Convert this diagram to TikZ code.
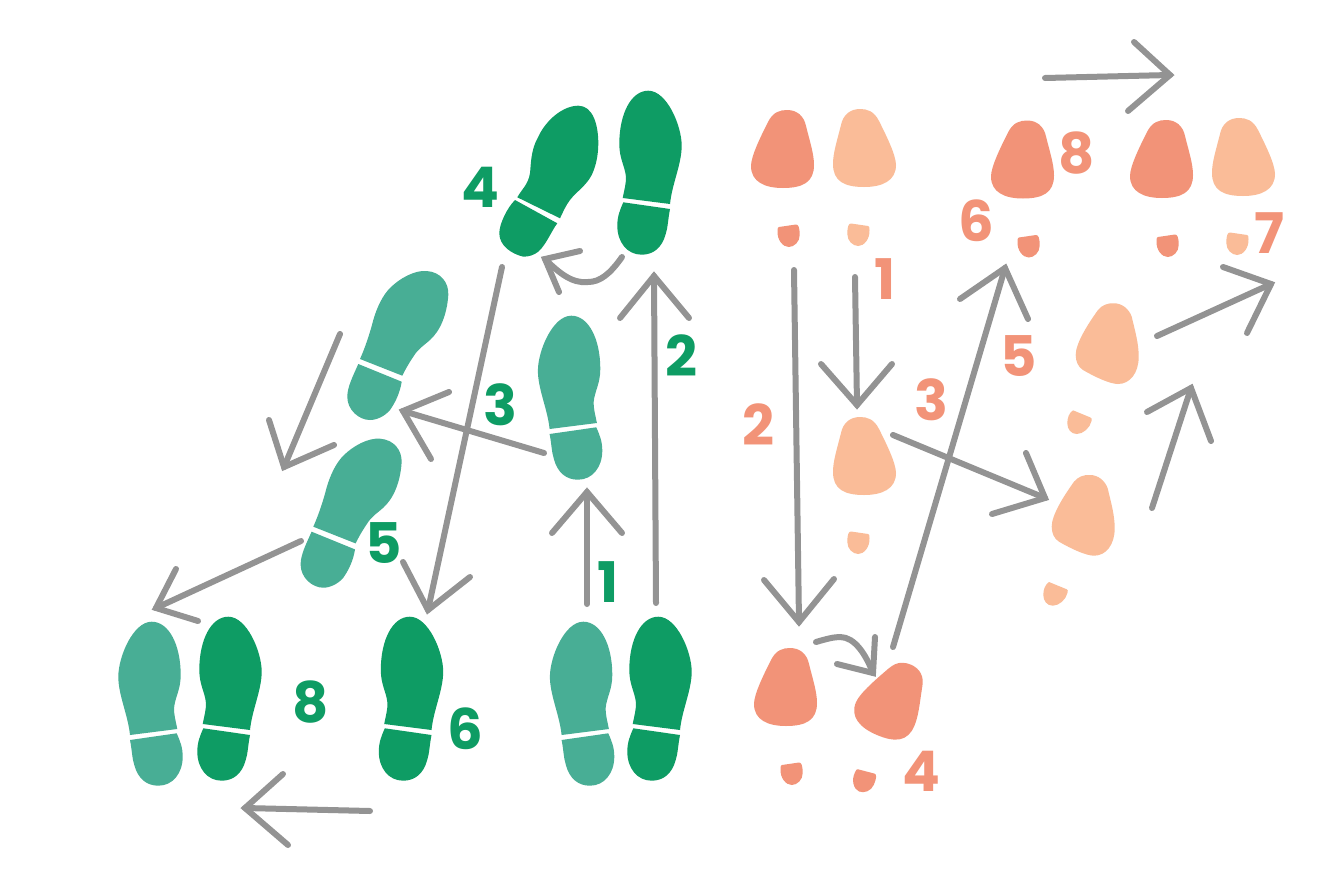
\documentclass[tikz,border=0pt]{standalone}
\usepackage{fontspec}
\setmainfont{Poppins}
\definecolor{dgreen}{HTML}{0E9C64}
\definecolor{lgreen}{HTML}{48AE95}
\definecolor{salmon}{HTML}{F29378}
\definecolor{peach}{HTML}{FABC98}
\definecolor{arrgray}{HTML}{939393}
\tikzset{
  arrline/.style={draw=arrgray,line width=4.5pt,line cap=round,line join=miter},
  numlabel/.style={inner sep=0pt,font=\fontsize{42}{42}\selectfont\bfseries},
  shoeone/.pic={
    \fill (-22.3,24) .. controls (-20.5,15) and (-19,10) .. (-19,3.3)
      .. controls (-20,-8) and (-25.7,-15) .. (-25.7,-30)
      .. controls (-25.7,-60) and (-14,-83.3) .. (3.3,-83.3)
      .. controls (22,-83.3) and (36.7,-48) .. (36.7,-28.3)
      .. controls (36.7,-10) and (27,10) .. (25,30) -- cycle;
    \fill (-21.7,28.3) -- (25,35) .. controls (23,45) and (23,53) .. (20.7,60)
      .. controls (17,74) and (8,80.7) .. (-3.3,80.7)
      .. controls (-18,80.7) and (-27.7,68) .. (-27.7,51.7)
      .. controls (-27.7,42) and (-25,36) .. cycle;
  },
  shoeslant/.pic={
    \fill (-35,14) .. controls (-30,3) and (-25,-12) .. (-21.7,-25)
      .. controls (-18,-38) and (-12,-50) .. (-5,-57)
      .. controls (5,-67) and (20,-75) .. (31.7,-74)
      .. controls (46,-73) and (54,-62) .. (53.3,-50)
      .. controls (52,-30) and (45,-14) .. (35,-5)
      .. controls (27,2) and (23,4) .. (18.3,11.7)
      .. controls (14,18) and (10,25) .. (7.3,30.7) -- cycle;
    \fill (-36.7,19) -- (6.7,36.7) .. controls (5,48) and (0,58) .. (-5,65)
      .. controls (-10,71) and (-18,75) .. (-25,75)
      .. controls (-36,75) and (-47.7,65) .. (-47.7,51.7)
      .. controls (-47.7,42) and (-42,31) .. cycle;
  },
  footone/.pic={
    \fill (-15,-40) .. controls (-10,-50) and (-3,-52) .. (4,-52)
      .. controls (14,-52) and (21,-46) .. (23,-36)
      .. controls (27,-20) and (31,-8) .. (31,3)
      .. controls (31,20) and (20,26) .. (0,26)
      .. controls (-18,26) and (-32,20) .. (-32,4)
      .. controls (-32,-6) and (-22,-26) .. cycle;
    \fill (-4,65) -- (13,62.5) .. controls (15.5,62.3) and (16.7,66) .. (16.7,73)
      .. controls (16.7,80) and (11,85) .. (5.7,85)
      .. controls (0,85) and (-6,78) .. (-5.5,69)
      .. controls (-5.5,66) and (-5.2,65.3) .. cycle;
  },
  footturned/.pic={
    \fill (-7,-43) .. controls (-3,-48) and (3,-50) .. (8.3,-49.7)
      .. controls (17,-50) and (24,-44) .. (26.7,-36.3)
      .. controls (30,-22) and (33.7,-10) .. (33.7,3.7)
      .. controls (33.7,20) and (25,31) .. (13,31)
      .. controls (5,31) and (-10,24) .. (-22,17)
      .. controls (-27,14) and (-29.3,8) .. (-29.3,2)
      .. controls (-29.3,-10) and (-17,-29) .. cycle;
    \fill (-32,57.3) -- (-14.5,64.5) .. controls (-13,65.3) and (-13,66) .. (-13.5,68)
      .. controls (-15,75) and (-22,81) .. (-28.3,81)
      .. controls (-34,81) and (-37.7,76) .. (-37.7,70.3)
      .. controls (-37.7,65) and (-36,60) .. cycle;
  }
}
% name, start, tip, barb, barb
\newcommand{\straightarr}[5]{%
  \coordinate (#1s) at (#2); \coordinate (#1t) at (#3);
  \coordinate (#1a) at (#4); \coordinate (#1b) at (#5);
  \draw[arrline] (#1s) -- (#1t);
  \draw[arrline] (#1a) -- (#1t) -- (#1b);
}
\begin{document}
\begin{tikzpicture}[x=0.75pt,y=-0.75pt]
\useasboundingbox (0,0) rectangle (1325,871);
\fill[white] (0,0) rectangle (1325,871);
% shoes
\pic[dgreen,shift={(655,700)}] {shoeone};
\pic[dgreen,shift={(645,174)}] {shoeone};
\pic[dgreen,shift={(225,700)}] {shoeone};
\pic[dgreen,shift={(406.5,700)}] {shoeone};
% turned shoe
\fill[dgreen] (517.3,197.3) .. controls (522,189) and (528.5,184) .. (530,173)
  .. controls (531,165) and (530.5,150) .. (538.3,136.7)
  .. controls (546,120) and (563,105.7) .. (578.3,105.7)
  .. controls (593,105.7) and (598.3,125) .. (598.3,143.3)
  .. controls (598.3,155) and (596,166) .. (591.7,175)
  .. controls (586,186) and (576,192) .. (570,200)
  .. controls (566,205) and (563,212) .. (560,218.3) -- cycle;
\fill[dgreen] (515,200) -- (557.3,223.3) .. controls (552,230) and (546,245) .. (538.3,251.7)
  .. controls (534,255) and (529,256.7) .. (523.3,256.7)
  .. controls (512,254) and (499.3,246) .. (499.3,233.3)
  .. controls (499.3,224) and (507,208) .. cycle;
\pic[lgreen,shift={(586.6,705)},xscale=-1] {shoeone};
\pic[lgreen,shift={(574.6,399)},xscale=-1] {shoeone};
\pic[lgreen,shift={(155,705)},xscale=-1] {shoeone};
\pic[lgreen,shift={(395,345)}] {shoeslant};
\pic[lgreen,shift={(348.3,512.7)}] {shoeslant};
% feet
\pic[salmon,shift={(786,700)}] {footone};
\pic[salmon,shift={(887,711)},rotate=-23] {footone};
\pic[salmon,shift={(1023,172.5)}] {footone};
\pic[salmon,shift={(1162,172)}] {footone};
\pic[salmon,shift={(783,162)}] {footone};
\pic[peach,shift={(1243,170)},xscale=-1] {footone};
\pic[peach,shift={(864,161)},xscale=-1] {footone};
\pic[peach,shift={(864,469)},xscale=-1] {footone};
\pic[peach,shift={(1105,353)}] {footturned};
\pic[peach,shift={(1081,524.7)}] {footturned};
% green arrows
\straightarr{ga}{587,604}{587,492}{552,533}{622,533}
\straightarr{gb}{656,603}{654,276}{620,318}{689,318}
\straightarr{gc}{544,453}{403,411}{449,392}{431,459}
\straightarr{gd}{502,267}{428,610}{403,562}{470,577}
\straightarr{ge}{340,334}{284,467}{269,420}{334,445}
\straightarr{gf}{301,541}{156,608}{176,569}{198,621}
\straightarr{gg}{370,811}{245,808}{283,774}{288,845}
\coordinate (gcs) at (622,257); \coordinate (gct) at (545,259);
\draw[arrline] (gcs) .. controls (610,274) and (600,282) .. (588,282) .. controls (572,284) and (558,272) .. (gct);
\coordinate (gca) at (580,251); \coordinate (gcb) at (559,292);
\draw[arrline] (gca) -- (gct) -- (gcb);
% salmon arrows
\straightarr{sa}{855,277}{857,405}{821,364}{892,364}
\straightarr{sb}{794,270}{799,622}{764,580}{834,579}
\straightarr{sc}{893,435}{1045,498}{1026,453}{992,514}
\straightarr{sd}{893,647}{1005,268}{960,299}{1028,319}
\straightarr{se}{1152,508}{1191,388}{1147,412}{1211,441}
\straightarr{sf}{1157,336}{1271,284}{1223,267}{1247,333}
\straightarr{sg}{1045,78}{1170,75}{1134,42}{1128,111}
\coordinate (scs) at (816,642); \coordinate (sct) at (873,673);
\draw[arrline] (scs) .. controls (826,639) and (834,637) .. (840,637) .. controls (855,637) and (866,655) .. (sct);
\coordinate (sca) at (875,637); \coordinate (scb) at (837,664);
\draw[arrline] (sca) -- (sct) -- (scb);
% numbers
\node[numlabel,text=dgreen] (g4) at (480,187) {4};
\node[numlabel,text=dgreen] (g1) at (608,582) {1};
\node[numlabel,text=dgreen] (g2) at (681,356) {2};
\node[numlabel,text=dgreen] (g3) at (500,405) {3};
\node[numlabel,text=dgreen] (g5) at (384,543) {5};
\node[numlabel,text=dgreen] (g8) at (311,702) {8};
\node[numlabel,text=dgreen] (g6) at (465,729) {6};
\node[numlabel,text=salmon] (s1) at (885,279) {1};
\node[numlabel,text=salmon] (s2) at (758,425) {2};
\node[numlabel,text=salmon] (s3) at (931,400) {3};
\node[numlabel,text=salmon] (s4) at (921,771) {4};
\node[numlabel,text=salmon] (s5) at (1019,356) {5};
\node[numlabel,text=salmon] (s6) at (976,221) {6};
\node[numlabel,text=salmon] (s7) at (1269,233) {7};
\node[numlabel,text=salmon] (s8) at (1077,153) {8};
\end{tikzpicture}
\end{document}
